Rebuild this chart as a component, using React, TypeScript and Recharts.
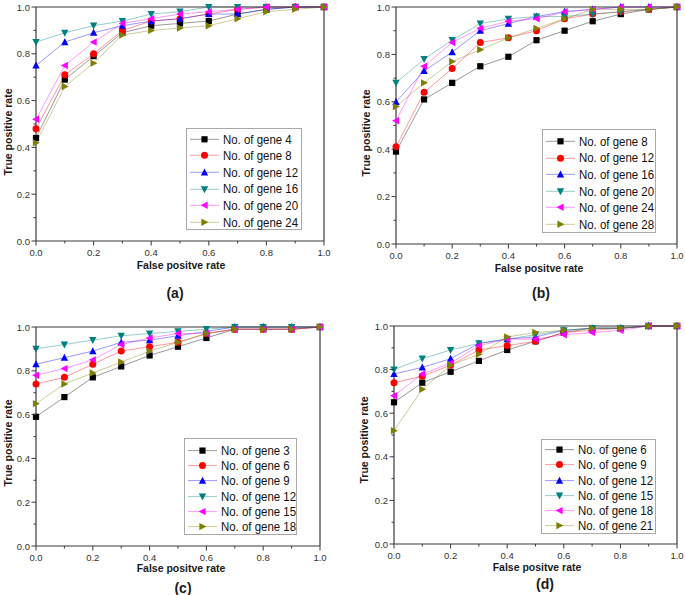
import React from 'react';
import { LineChart, Line, XAxis, YAxis, Legend } from 'recharts';

// false positive rate grid shared by all four panels
const FPR = [0, 0.1, 0.2, 0.3, 0.4, 0.5, 0.6, 0.7, 0.8, 0.9, 1.0];
const TICKS = [0, 0.1, 0.2, 0.3, 0.4, 0.5, 0.6, 0.7, 0.8, 0.9, 1.0];

// (a)
const GENES_A = [4, 8, 12, 16, 20, 24];
const A4 = [0.44, 0.69, 0.79, 0.89, 0.92, 0.93, 0.94, 0.97, 0.99, 1.0, 1.0];
const A8 = [0.48, 0.71, 0.8, 0.9, 0.94, 0.95, 0.97, 0.99, 1.0, 1.0, 1.0];
const A12 = [0.75, 0.85, 0.89, 0.92, 0.94, 0.95, 0.97, 0.97, 0.99, 1.0, 1.0];
const A16 = [0.85, 0.89, 0.92, 0.94, 0.97, 0.98, 1.0, 1.0, 1.0, 1.0, 1.0];
const A20 = [0.52, 0.75, 0.85, 0.93, 0.95, 0.97, 0.98, 0.99, 1.0, 1.0, 1.0];
const A24 = [0.42, 0.66, 0.76, 0.88, 0.9, 0.91, 0.92, 0.95, 0.98, 0.99, 1.0];

// (b)
const GENES_B = [8, 12, 16, 20, 24, 28];
const B8 = [0.39, 0.61, 0.68, 0.75, 0.79, 0.86, 0.9, 0.94, 0.97, 0.99, 1.0];
const B12 = [0.41, 0.64, 0.74, 0.85, 0.87, 0.9, 0.95, 0.97, 0.98, 0.99, 1.0];
const B16 = [0.6, 0.73, 0.81, 0.9, 0.93, 0.96, 0.98, 0.99, 1.0, 1.0, 1.0];
const B20 = [0.68, 0.78, 0.86, 0.93, 0.95, 0.96, 0.96, 0.97, 0.98, 0.99, 1.0];
const B24 = [0.52, 0.75, 0.85, 0.91, 0.94, 0.95, 0.98, 0.99, 1.0, 1.0, 1.0];
const B28 = [0.58, 0.68, 0.77, 0.82, 0.87, 0.91, 0.95, 0.99, 0.99, 0.99, 1.0];

// (c)
const GENES_C = [3, 6, 9, 12, 15, 18];
const C3 = [0.59, 0.68, 0.77, 0.82, 0.87, 0.91, 0.95, 0.99, 0.99, 0.99, 1.0];
const C6 = [0.74, 0.77, 0.83, 0.89, 0.91, 0.93, 0.97, 0.99, 0.99, 0.99, 1.0];
const C9 = [0.83, 0.86, 0.89, 0.93, 0.94, 0.96, 0.98, 1.0, 1.0, 1.0, 1.0];
const C12 = [0.9, 0.92, 0.94, 0.96, 0.97, 0.98, 0.99, 1.0, 1.0, 1.0, 1.0];
const C15 = [0.78, 0.81, 0.85, 0.92, 0.95, 0.97, 0.97, 0.99, 0.99, 0.99, 1.0];
const C18 = [0.65, 0.74, 0.79, 0.84, 0.89, 0.93, 0.97, 0.99, 0.99, 0.99, 1.0];

// (d)
const GENES_D = [6, 9, 12, 15, 18, 21];
const D6 = [0.65, 0.74, 0.79, 0.84, 0.89, 0.93, 0.97, 0.99, 0.99, 1.0, 1.0];
const D9 = [0.74, 0.77, 0.82, 0.89, 0.91, 0.93, 0.97, 0.98, 0.99, 1.0, 1.0];
const D12 = [0.78, 0.81, 0.85, 0.92, 0.94, 0.95, 0.98, 0.99, 0.99, 1.0, 1.0];
const D15 = [0.8, 0.85, 0.89, 0.92, 0.94, 0.96, 0.98, 0.99, 0.99, 1.0, 1.0];
const D18 = [0.68, 0.78, 0.83, 0.91, 0.94, 0.94, 0.96, 0.97, 0.98, 1.0, 1.0];
const D21 = [0.52, 0.71, 0.82, 0.87, 0.95, 0.97, 0.98, 0.99, 0.99, 1.0, 1.0];

const COLORS = ['#000000', '#ff0000', '#0000ff', '#008080', '#ff00ff', '#808000'];
const SHAPES = ['square', 'circle', 'up', 'down', 'left', 'right'];

const AXIS = '#3a3a3a';
const TXT = '#333';
const FONT = '"Liberation Sans", Arial, sans-serif';

function Marker({ cx, cy, shape, color }: { cx: number; cy: number; shape: string; color: string }) {
  const s = 3.1;
  if (cx == null || cy == null) return null;
  switch (shape) {
    case 'square':
      return <rect x={cx - s} y={cy - s} width={s * 2} height={s * 2} fill={color} />;
    case 'circle':
      return <circle cx={cx} cy={cy} r={s + 0.4} fill={color} />;
    case 'up':
      return <polygon points={`${cx},${cy - s - 0.8} ${cx + s + 0.6},${cy + s} ${cx - s - 0.6},${cy + s}`} fill={color} />;
    case 'down':
      return <polygon points={`${cx},${cy + s + 0.8} ${cx + s + 0.6},${cy - s} ${cx - s - 0.6},${cy - s}`} fill={color} />;
    case 'left':
      return <polygon points={`${cx - s - 0.8},${cy} ${cx + s},${cy - s - 0.6} ${cx + s},${cy + s + 0.6}`} fill={color} />;
    default:
      return <polygon points={`${cx + s + 0.8},${cy} ${cx - s},${cy - s - 0.6} ${cx - s},${cy + s + 0.6}`} fill={color} />;
  }
}

const isMajor = (v: number) => Math.round(v * 10) % 2 === 0;

const BottomTick = (props: any) => {
  const { x, y, payload } = props;
  const v = payload.value;
  return (
    <g>
      <line x1={x} x2={x} y1={y} y2={y + (isMajor(v) ? 4.5 : 2.5)} stroke={AXIS} />
      {isMajor(v) && (
        <text x={x} y={y + 15} textAnchor="middle" fontSize={9.5} fill={TXT} fontFamily={FONT}>
          {v.toFixed(1)}
        </text>
      )}
    </g>
  );
};

const LeftTick = (props: any) => {
  const { x, y, payload } = props;
  const v = payload.value;
  return (
    <g>
      <line x1={x} x2={x - (isMajor(v) ? 4.5 : 2.5)} y1={y} y2={y} stroke={AXIS} />
      {isMajor(v) && (
        <text x={x - 6} y={y + 3.5} textAnchor="end" fontSize={9.5} fill={TXT} fontFamily={FONT}>
          {v.toFixed(1)}
        </text>
      )}
    </g>
  );
};

const RightTick = (props: any) => {
  const { x, y, payload } = props;
  const v = payload.value;
  return <line x1={x} x2={x + (isMajor(v) ? 4.5 : 2.5)} y1={y} y2={y} stroke={AXIS} />;
};

interface PanelProps {
  genes: number[];
  series: number[][];
  left: number;
  top: number;
  width: number;
  height: number;
  plot: { top: number; right: number; bottom: number; left: number };
  legend: { left: number; top: number; width: number; height: number; pad: number; step: number };
}

function RocPanel({ genes, series, left, top, width, height, plot, legend }: PanelProps) {
  const data = FPR.map((x, i) => {
    const row: Record<string, number> = { fpr: x };
    series.forEach((s, k) => (row[`s${k}`] = s[i]));
    return row;
  });
  // every axis takes 1px, so the margins are 1px less than the plot insets
  const margin = { top: plot.top - 1, right: plot.right - 1, bottom: plot.bottom - 1, left: plot.left - 1 };

  const renderLegend = () => (
    <div
      style={{
        width: legend.width,
        height: legend.height,
        boxSizing: 'border-box',
        border: '1px solid #a8a8a8',
        background: '#fff',
        paddingTop: legend.pad,
        fontFamily: FONT,
        fontSize: 13,
        lineHeight: 1,
        color: '#111',
      }}
    >
      {genes.map((g, k) => (
        <div key={g} style={{ display: 'flex', alignItems: 'center', height: legend.step }}>
          <svg width={36} height={legend.step} style={{ flex: 'none' }}>
            <line x1={3} x2={32} y1={legend.step / 2} y2={legend.step / 2} stroke={COLORS[k]} strokeOpacity={0.4} />
            <Marker cx={17.5} cy={legend.step / 2} shape={SHAPES[k]} color={COLORS[k]} />
          </svg>
          {/* the original legend font is a condensed sans */}
          <span style={{ whiteSpace: 'nowrap', display: 'inline-block', transform: 'scaleX(0.88)', transformOrigin: 'left center' }}>
            No. of gene {g}
          </span>
        </div>
      ))}
    </div>
  );

  return (
    <div style={{ position: 'absolute', left, top }}>
      <LineChart width={width} height={height} data={data} margin={margin}>
        <XAxis
          dataKey="fpr"
          type="number"
          domain={[0, 1]}
          ticks={TICKS}
          interval={0}
          height={1}
          tickSize={0}
          tickMargin={0}
          tickLine={false}
          axisLine={{ stroke: AXIS, strokeWidth: 1.2 }}
          tick={BottomTick}
        />
        <XAxis
          xAxisId="top"
          dataKey="fpr"
          orientation="top"
          type="number"
          domain={[0, 1]}
          height={1}
          tick={false}
          tickLine={false}
          axisLine={{ stroke: AXIS, strokeWidth: 1.2 }}
        />
        <YAxis
          type="number"
          domain={[0, 1]}
          ticks={TICKS}
          interval={0}
          width={1}
          tickSize={0}
          tickMargin={0}
          tickLine={false}
          axisLine={{ stroke: AXIS, strokeWidth: 1.2 }}
          tick={LeftTick}
        />
        <YAxis
          yAxisId="right"
          orientation="right"
          type="number"
          domain={[0, 1]}
          ticks={TICKS}
          interval={0}
          width={1}
          tickSize={0}
          tickMargin={0}
          tickLine={false}
          axisLine={{ stroke: AXIS, strokeWidth: 1.2 }}
          tick={RightTick}
        />
        {series.map((_, k) => (
          <Line
            key={k}
            dataKey={`s${k}`}
            stroke={COLORS[k]}
            strokeOpacity={0.4}
            strokeWidth={1}
            isAnimationActive={false}
            dot={(p: any) => <Marker key={`d${k}-${p.index}`} cx={p.cx} cy={p.cy} shape={SHAPES[k]} color={COLORS[k]} />}
            activeDot={false}
          />
        ))}
        <Legend
          layout="vertical"
          align="center"
          verticalAlign="middle"
          content={renderLegend}
          wrapperStyle={{ left: legend.left, top: legend.top, width: legend.width, height: legend.height }}
        />
      </LineChart>
    </div>
  );
}

const titleX: React.CSSProperties = {
  position: 'absolute',
  fontFamily: FONT,
  fontWeight: 'bold',
  fontSize: 10.5,
  color: '#1a1a1a',
  whiteSpace: 'nowrap',
  transform: 'translate(-50%, -50%)',
};
const titleY: React.CSSProperties = { ...titleX, transform: 'translate(-50%, -50%) rotate(-90deg)' };
const letter: React.CSSProperties = { ...titleX, fontSize: 14 };

export default function App() {
  return (
    <div style={{ position: 'absolute', left: 0, top: 0, width: 685, height: 595, background: '#fff', overflow: 'hidden' }}>
      <RocPanel
        genes={GENES_A}
        series={[A4, A8, A12, A16, A20, A24]}
        left={0}
        top={0}
        width={340}
        height={300}
        plot={{ top: 7, left: 36, right: 16, bottom: 59 }}
        legend={{ left: 186, top: 128, width: 116, height: 102, pad: 1.8, step: 16.6 }}
      />
      <RocPanel
        genes={GENES_B}
        series={[B8, B12, B16, B20, B24, B28]}
        left={345}
        top={0}
        width={340}
        height={300}
        plot={{ top: 7, left: 51, right: 8, bottom: 56 }}
        legend={{ left: 197, top: 129, width: 114, height: 104, pad: 3, step: 16.6 }}
      />
      <RocPanel
        genes={GENES_C}
        series={[C3, C6, C9, C12, C15, C18]}
        left={0}
        top={305}
        width={340}
        height={290}
        plot={{ top: 22, left: 36, right: 20, bottom: 49 }}
        legend={{ left: 184, top: 133, width: 113, height: 97, pad: 4, step: 15.2 }}
      />
      <RocPanel
        genes={GENES_D}
        series={[D6, D9, D12, D15, D18, D21]}
        left={345}
        top={305}
        width={340}
        height={290}
        plot={{ top: 21, left: 49, right: 8, bottom: 51 }}
        legend={{ left: 196, top: 134, width: 115, height: 95, pad: 2.2, step: 15.2 }}
      />

      <div style={{ ...titleX, left: 181, top: 265 }}>False positve rate</div>
      <div style={{ ...titleX, left: 539, top: 268 }}>False positve rate</div>
      <div style={{ ...titleX, left: 181, top: 568 }}>False positve rate</div>
      <div style={{ ...titleX, left: 537, top: 567 }}>False positve rate</div>

      <div style={{ ...titleY, left: 8, top: 132 }}>True positive rate</div>
      <div style={{ ...titleY, left: 366, top: 133 }}>True positive rate</div>
      <div style={{ ...titleY, left: 8, top: 443 }}>True positive rate</div>
      <div style={{ ...titleY, left: 364, top: 440 }}>True positive rate</div>

      <div style={{ ...letter, left: 175, top: 293 }}>(a)</div>
      <div style={{ ...letter, left: 541, top: 293 }}>(b)</div>
      <div style={{ ...letter, left: 183, top: 588 }}>(c)</div>
      <div style={{ ...letter, left: 545, top: 584 }}>(d)</div>
    </div>
  );
}
